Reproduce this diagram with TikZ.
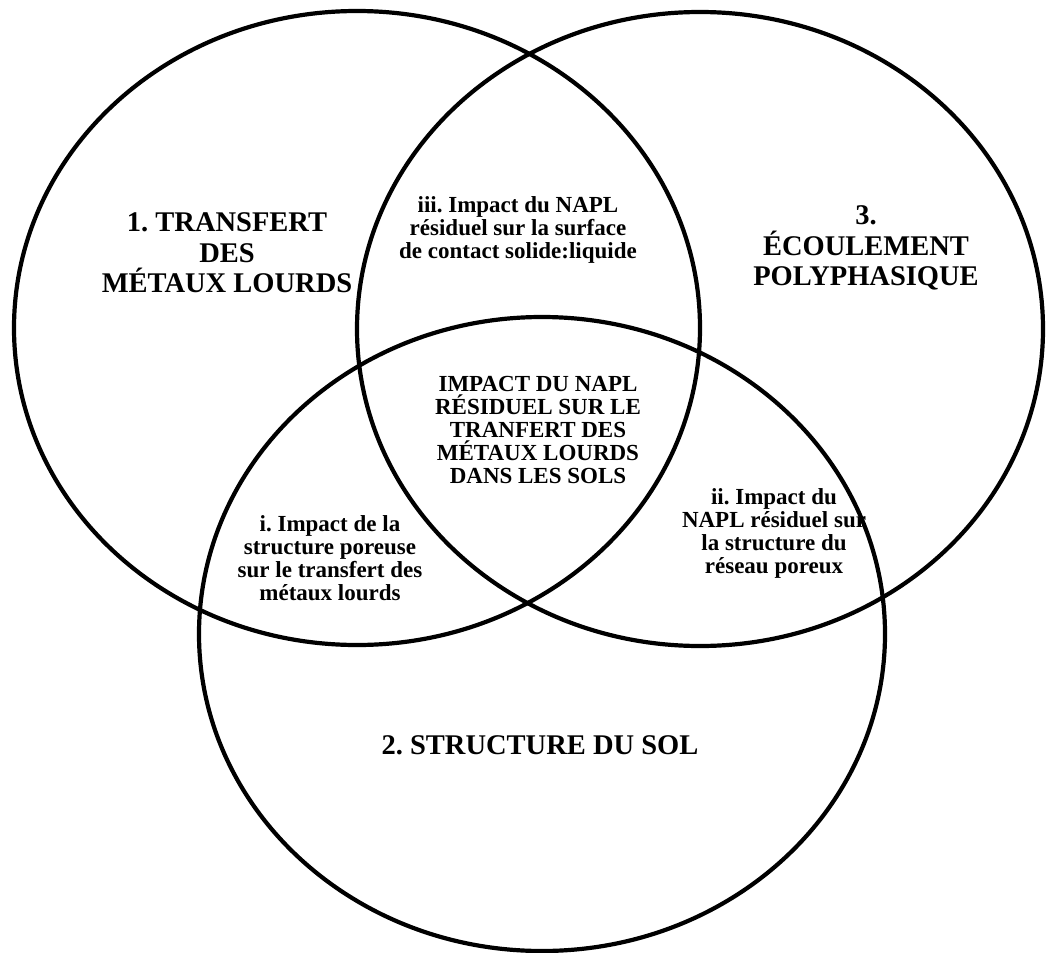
\documentclass[tikz,border=0pt]{standalone}
\usepackage{fontspec}
\setmainfont{Liberation Serif}
\frenchspacing

\begin{document}
\begin{tikzpicture}[x=1pt, y=-1pt,
  big/.style={font=\fontsize{28.5}{30.5}\selectfont\bfseries, align=center},
  small/.style={font=\fontsize{23}{23}\selectfont\bfseries, align=center},
  ring/.style={line width=4.2pt}]

  \def\RX{343pt}
  \def\RY{317pt}

  \useasboundingbox (0,0) rectangle (1047,953);

  % Circle centres
  \coordinate (c1) at (357,328);
  \coordinate (c2) at (542,634);
  \coordinate (c3) at (700,329);

  % The three circles
  \draw[ring] (c1) ellipse [x radius=\RX, y radius=\RY];
  \draw[ring] (c2) ellipse [x radius=\RX, y radius=\RY];
  \draw[ring] (c3) ellipse [x radius=\RX, y radius=\RY];

  % Main labels
  \node[big] (trans) at (227,253) {1. TRANSFERT\\DES\\MÉTAUX LOURDS};
  \node[big] (ecoul) at (866,248) {3.\\ÉCOULEMENT\\POLYPHASIQUE};
  \node[big] (struc) at (540,745) {2. STRUCTURE DU SOL};

  % Pairwise overlaps
  \node[small] (iii) at (518,230) {iii. Impact du NAPL\\résiduel sur la surface\\de contact solide:liquide};
  \node[small] (i) at (330,558) {i. Impact de la\\structure poreuse\\sur le transfert des\\métaux lourds};
  \node[small] (ii) at (774,533) {ii. Impact du\\NAPL résiduel sur\\la structure du\\réseau poreux};

  % Centre
  \node[small] (core) at (538,430) {IMPACT DU NAPL\\RÉSIDUEL SUR LE\\TRANFERT DES\\MÉTAUX LOURDS\\DANS LES SOLS};

\end{tikzpicture}
\end{document}
